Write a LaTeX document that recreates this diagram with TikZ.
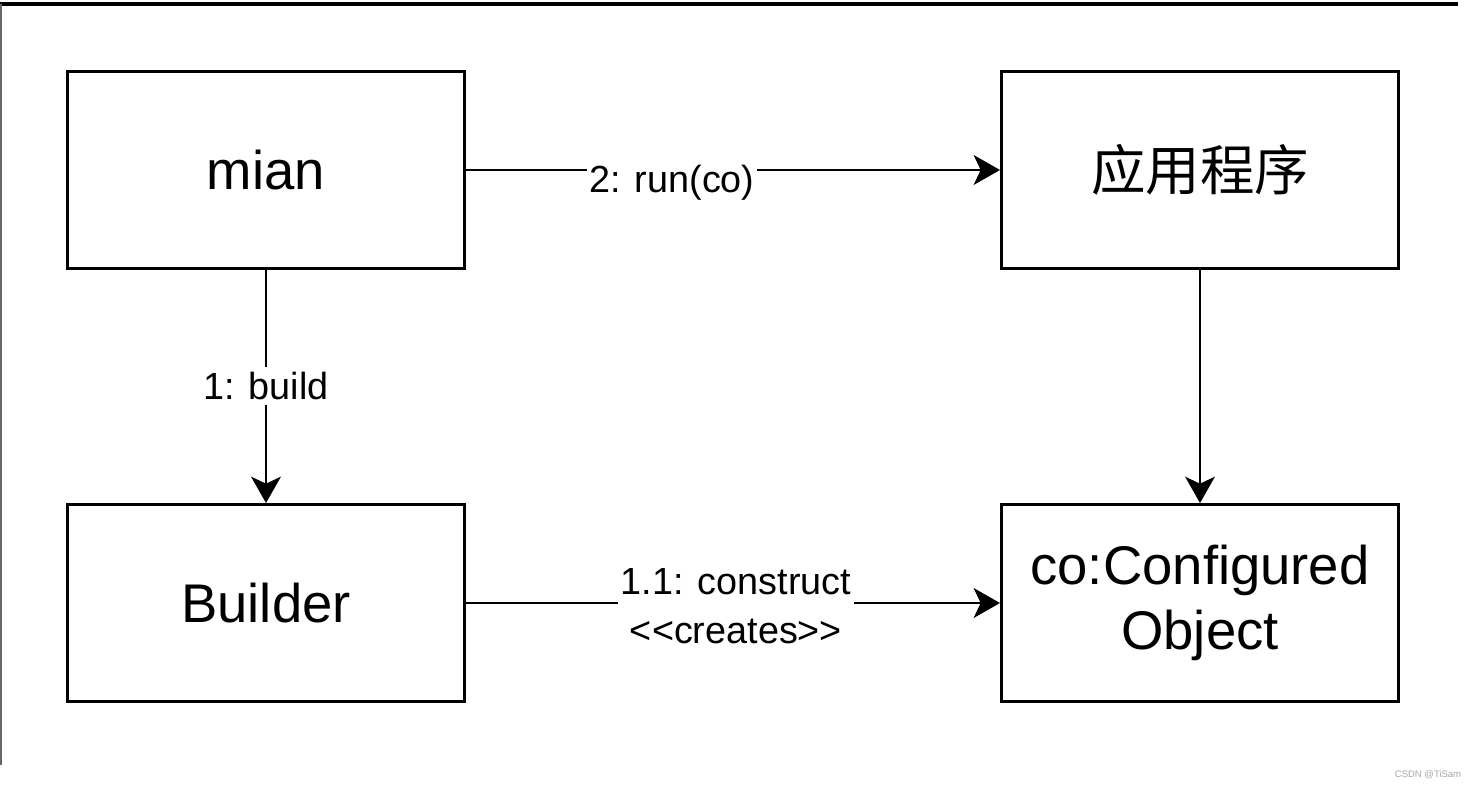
\documentclass[tikz,border=0pt]{standalone}
\usepackage{fontspec}
\setmainfont{Liberation Sans}
\newfontfamily\cjk{Noto Sans CJK SC}
\usetikzlibrary{arrows.meta}
\begin{document}
\begin{tikzpicture}[x=0.02cm,y=-0.02cm,
  box/.style={draw=black, line width=1.7pt, minimum width=400*0.02cm-1.7pt, minimum height=200*0.02cm-1.7pt, inner sep=0pt, align=center, font=\fontsize{31}{37}\selectfont},
  conn/.style={draw=black, line width=1.1pt, -{Stealth[length=15pt,width=17pt,inset=4pt]}},
  lbl/.style={fill=white, inner xsep=1.5pt, inner ysep=3pt, align=center, font=\fontsize{21.5}{28}\selectfont}]
\useasboundingbox (0,0) rectangle (1480,790);
% frame lines
\draw[line width=1.8pt] (0,4) -- (1458,4);
\draw[line width=0.6pt, black!60] (1,4) -- (1,765);
% boxes
\node[box] (mian) at (266,170) {mian};
\node[box] (app) at (1200,170) {\cjk 应用程序};
\node[box] (builder) at (266,603) {Builder};
\node[box] (co) at (1200,603) {co:Configured\\Object};
% connectors
\draw[conn] (mian.east) -- (app.west);
\node[lbl] (lrun) at (672,183) {2: run(co)};
\draw[conn] (mian.south) -- (builder.north);
\node[lbl] (lbuild) at (266,386) {1: build};
\draw[conn] (app.south) -- (co.north);
\draw[conn] (builder.east) -- (co.west);
\node[lbl] (lcons) at (736,606) {1.1: construct\\<\kern0pt<creates>\kern0pt>};
% watermark
\node[text=black!35, font=\fontsize{5.4}{6}\selectfont, inner sep=0pt] (wm) at (1428,775) {CSDN @TiSam};
\end{tikzpicture}
\end{document}
